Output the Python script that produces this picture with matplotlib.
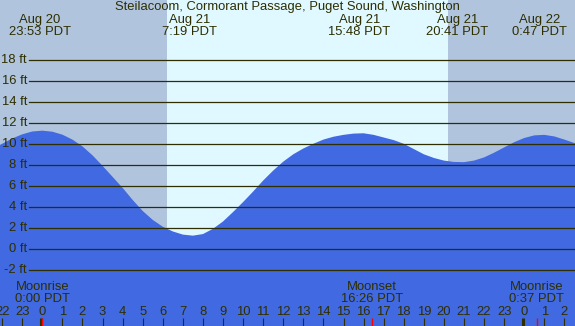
import numpy as np
import matplotlib
matplotlib.use("Agg")
import matplotlib.pyplot as plt

plt.rcParams['font.family'] = ['Liberation Sans', 'DejaVu Sans']

# tide height (ft), every half hour (hours PDT from Aug 21 0:00)
hours = np.arange(-3.0, 27.01, 0.5)
height = [8.9, 9.55, 10.05, 10.55, 10.95, 11.22, 11.3, 11.2, 10.92, 10.45,
          9.8, 8.95, 7.95, 6.9, 5.85, 4.7, 3.65, 2.8, 2.15, 1.7,
          1.4, 1.3, 1.45, 1.95, 2.65, 3.55, 4.5, 5.5, 6.55, 7.5,
          8.35, 9.05, 9.6, 10.05, 10.45, 10.72, 10.9, 11.02, 11.05, 10.9,
          10.65, 10.4, 10.05, 9.55, 9.05, 8.7, 8.45, 8.32, 8.3, 8.45,
          8.75, 9.2, 9.7, 10.2, 10.6, 10.85, 10.9, 10.75, 10.45, 10.12, 9.75]

# highs and lows labelled on top
ext_times = [-0.117, 7.317, 15.8, 20.683, 24.783]
ext_dates = ["Aug 20", "Aug 21", "Aug 21", "Aug 21", "Aug 22"]
ext_labels = ["23:53 PDT", "7:19 PDT", "15:48 PDT", "20:41 PDT", "0:47 PDT"]

# moon events
moon_times = [0.0, 16.433, 24.617]
moon_names = ["Moonrise", "Moonset", "Moonrise"]
moon_labels = ["0:00 PDT", "16:26 PDT", "0:37 PDT"]

sunrise, sunset = 6.2, 20.2
ft_levels = list(range(-2, 19, 2))
tick_hours = list(range(-2, 27))

night = "#b0c4de"
day = "#e0f8ff"
water = "#4169e1"
ink = "#2e2e00"
fs = 9.4

fig = plt.figure(figsize=(5.75, 3.26), dpi=100)
ax = fig.add_axes([0, 0, 1, 1])
ax.set_xlim(-2.107, 26.529)
ax.set_ylim(-7.305, 23.743)
ax.axis("off")

ax.axvspan(-3, sunrise, color=night, zorder=0, lw=0)
ax.axvspan(sunrise, sunset, color=day, zorder=0, lw=0)
ax.axvspan(sunset, 28, color=night, zorder=0, lw=0)

ax.fill_between(hours, -8, height, color=water, lw=0, zorder=1)

for lv in ft_levels:
    ax.axhline(lv, xmin=29 / 575, xmax=1, color=ink, lw=0.9, zorder=2)
    ax.text(27 / 575, lv, f"{lv} ft", transform=ax.get_yaxis_transform(),
            ha="right", va="center", fontsize=fs, color=ink, zorder=3)

xt = ax.get_xaxis_transform()
ax.text(0.5, 1 - 7 / 326, "Steilacoom, Cormorant Passage, Puget Sound, Washington",
        transform=ax.transAxes, ha="center", va="center", fontsize=fs, color=ink)
for t, d, l in zip(ext_times, ext_dates, ext_labels):
    ax.text(t, 1 - 20 / 326, d, transform=xt, ha="center", va="center", fontsize=fs, color=ink)
    ax.text(t, 1 - 32 / 326, l, transform=xt, ha="center", va="center", fontsize=fs, color=ink)

for t, n, l in zip(moon_times, moon_names, moon_labels):
    ax.text(t, 1 - 287 / 326, n, transform=xt, ha="center", va="center", fontsize=fs, color=ink)
    ax.text(t, 1 - 299 / 326, l, transform=xt, ha="center", va="center", fontsize=fs, color=ink)

# hour ticks along the bottom
for h in tick_hours:
    mid = h % 24 == 0
    ax.vlines(h - (0.06 if mid else 0), 0, 8 / 326, transform=xt, color=ink,
              lw=2.2 if mid else 0.8, zorder=3)
    ax.text(h, 1 - 312 / 326, str(h % 24), transform=xt, ha="center", va="center",
            fontsize=fs, color=ink, zorder=3)
ax.vlines(moon_times, 0, 8 / 326, transform=xt, color="red", lw=1.0, zorder=4)

fig.savefig("out.png", dpi=100)
